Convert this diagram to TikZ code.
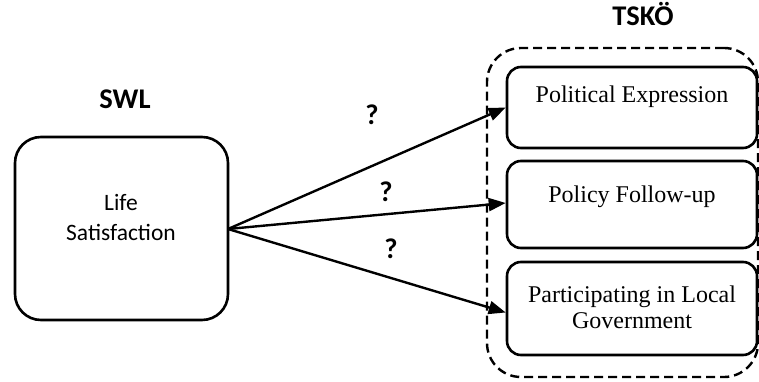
\documentclass[tikz,border=0pt]{standalone}
\usepackage{fontspec}
\setmainfont{Liberation Serif}
\newfontfamily\calib{Carlito}
\usetikzlibrary{arrows.meta}

\tikzset{
  box/.style={draw, line width=2.6pt, rounded corners=14pt, inner sep=0pt},
  bigbox/.style={draw, line width=2.6pt, rounded corners=26pt, inner sep=0pt},
  group/.style={draw, line width=2.4pt, dash pattern=on 9pt off 5pt, rounded corners=34pt, inner sep=0pt},
  serif/.style={font=\fontsize{24}{27}\selectfont, anchor=base, inner sep=0pt},
  sans/.style={font=\calib\fontsize{23.5}{28}\selectfont, anchor=base, inner sep=0pt},
  heading/.style={font=\calib\bfseries\fontsize{28.5}{32}\selectfont, anchor=base, inner sep=0pt},
  link/.style={line width=2.4pt, -{Triangle[length=17pt,width=13pt]}},
}

\begin{document}
\begin{tikzpicture}[x=1pt,y=-1pt]
  \useasboundingbox (0,0) rectangle (759,382);

  % headings
  \node[heading] (swl) at (125,109) {SWL};
  \node[heading] (tsko) at (643,26) {TSKÖ};

  % predictor
  \node[bigbox, minimum width=213pt, minimum height=183pt] (life) at (121.5,228.5) {};
  \node[sans] (lifeA) at (121,210) {Life};
  \node[sans] (lifeB) at (121,240.5) {Satisfaction};

  % outcome group
  \node[group, minimum width=271pt, minimum height=329pt] (grp) at (622.5,212.5) {};

  \node[box, minimum width=250pt, minimum height=81pt] (pe) at (632,107.5) {};
  \node[box, minimum width=250pt, minimum height=87pt] (pf) at (632,204.5) {};
  \node[box, minimum width=250pt, minimum height=93pt] (pl) at (632,308.5) {};

  \node[serif] (peT) at (632,103) {Political Expression};
  \node[serif] (pfT) at (632,202) {Policy Follow-up};
  \node[serif] (plA) at (632,302) {Participating in Local};
  \node[serif] (plB) at (632,328) {Government};

  % paths
  \coordinate (src) at (228,229);
  \draw[link] (src) -- (pe.west);
  \draw[link] (src) -- ([yshift=1.5pt]pf.west);
  \draw[link] (src) -- ([yshift=-4pt]pl.west);

  \node[heading] (q1) at (372,125) {?};
  \node[heading] (q2) at (386,201.5) {?};
  \node[heading] (q3) at (391,258) {?};
\end{tikzpicture}
\end{document}
